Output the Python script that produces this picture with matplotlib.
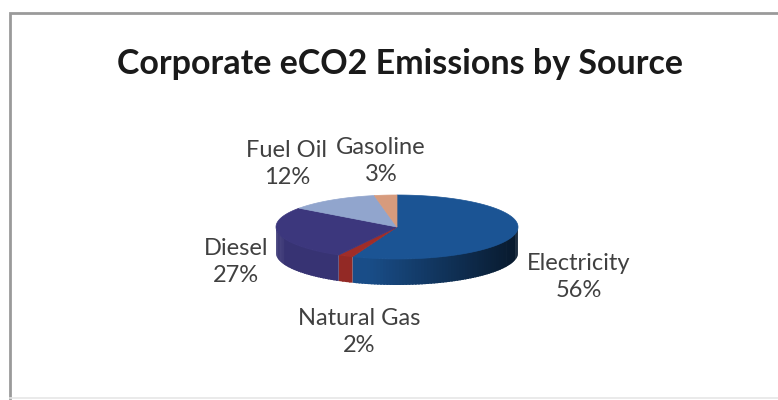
import numpy as np
import matplotlib
matplotlib.use("Agg")
import matplotlib.pyplot as plt
from matplotlib.patches import Polygon
from matplotlib.colors import to_rgb

# Emission shares by source (percent), in slice order starting at 12 o'clock
sources = ["Electricity", "Natural Gas", "Diesel", "Fuel Oil", "Gasoline"]
shares = [56, 2, 27, 12, 3]
top_colors = ["#1B5494", "#A02D28", "#3C377D", "#91A5CD", "#D79B7D"]

# Label anchor points (pixel coordinates of each two-line label's centre)
label_pos = {
    "Electricity": (579, 277),
    "Natural Gas": (359, 332),
    "Diesel": (236, 262),
    "Fuel Oil": (287, 164),
    "Gasoline": (381, 161),
}

W, H = 778, 400
fig = plt.figure(figsize=(W / 100, H / 100), dpi=100)
ax = fig.add_axes([0, 0, 1, 1])
ax.set_xlim(0, W)
ax.set_ylim(H, 0)
ax.axis("off")

# chart frame
ax.plot([10.5, 10.5, W + 5], [398, 12.5, 12.5], color="#9a9a9a", lw=2.0,
        solid_joinstyle="miter")
ax.plot([10.5, W + 5], [397.5, 397.5], color="#e6e6e6", lw=1.2)

ax.text(400, 64, "Corporate eCO2 Emissions by Source", ha="center", va="center",
        fontsize=24.5, fontweight="bold", family="Lato", color="#1a1a1a")

# 3-D pie geometry (ellipse in pixel space)
cx, cy, a, b, depth = 397, 227, 121, 32, 26


def ell(theta_deg):
    t = np.radians(theta_deg)
    return cx + a * np.cos(t), cy - b * np.sin(t)


fracs = np.array(shares, dtype=float) / np.sum(shares)
starts = 90 - 360 * np.concatenate([[0], np.cumsum(fracs)[:-1]])
ends = starts - 360 * fracs

# side walls (front half only, angles in [-180, 0]), shaded by facing angle
for s, e, col in zip(starts, ends, top_colors):
    base = np.array(to_rgb(col))
    for shift in (-360, 0, 360):
        lo = max(e + shift, -180)
        hi = min(s + shift, 0)
        if hi <= lo:
            continue
        n = max(2, int((hi - lo) / 1.5) + 1)
        th = np.linspace(lo, hi, n)
        for t0, t1 in zip(th[:-1], th[1:]):
            tm = np.radians(0.5 * (t0 + t1))
            f = np.clip(0.8 - 0.5 * np.cos(tm), 0.28, 0.92)
            c = np.clip(base * f, 0, 1)
            t1x = min(t1 + 0.8, hi)
            x0, y0 = ell(t0)
            x1, y1 = ell(t1x)
            quad = [(x0, y0 - 0.5), (x1, y1 - 0.5), (x1, y1 + depth),
                    (x0, y0 + depth)]
            ax.add_patch(Polygon(quad, closed=True, facecolor=c, lw=0))

# top faces
for s, e, col in zip(starts, ends, top_colors):
    th = np.linspace(s, e, max(3, int(abs(s - e) / 1.0) + 1))
    xs, ys = ell(th)
    pts = [(cx, cy)] + list(zip(xs, ys))
    ax.add_patch(Polygon(pts, closed=True, facecolor=col, edgecolor=col, lw=0.5))

# data labels
for name, val in zip(sources, shares):
    x, y = label_pos[name]
    ax.text(x, y, f"{name}\n{val}%", ha="center", va="center", fontsize=17,
            family="Lato", color="#404040", linespacing=1.3)

fig.savefig("out.png", dpi=100, facecolor="white")
